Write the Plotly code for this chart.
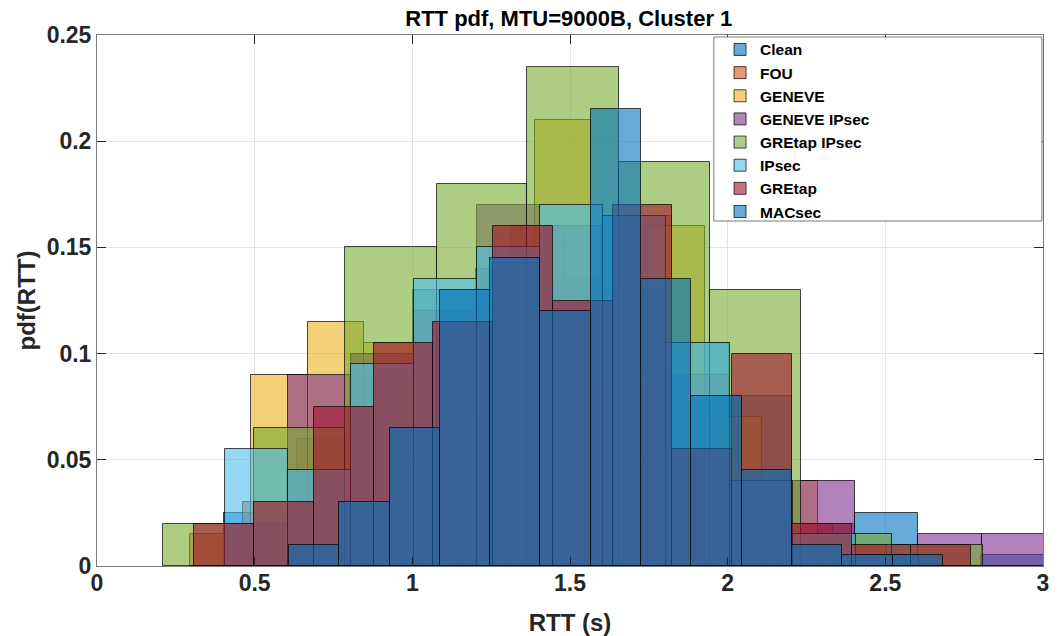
import plotly.graph_objects as go

# Histogram bin edges (s) and probability per bin for each tunnel type
clean_edges = [0.403, 0.603, 0.803, 1.003, 1.203, 1.403, 1.603, 1.803, 2.003, 2.203, 2.403, 2.603, 2.803, 3.003]
clean_pdf = [0.025, 0.045, 0.09, 0.13, 0.14, 0.135, 0.165, 0.105, 0.08, 0.02, 0.025, 0.0, 0.005]

fou_edges = [0.294, 0.464, 0.634, 0.804, 0.974, 1.144, 1.314, 1.484, 1.654, 1.824, 1.994, 2.164, 2.334, 2.504]
fou_pdf = [0.015, 0.03, 0.06, 0.1, 0.1, 0.12, 0.16, 0.13, 0.165, 0.06, 0.03, 0.02, 0.01]

geneve_edges = [0.488, 0.668, 0.848, 1.028, 1.208, 1.388, 1.568, 1.748, 1.928, 2.108, 2.288]
geneve_pdf = [0.09, 0.115, 0.105, 0.05, 0.07, 0.21, 0.09, 0.16, 0.07, 0.04]

geneve_ipsec_edges = [0.405, 0.605, 0.805, 1.005, 1.205, 1.405, 1.605, 1.805, 2.005, 2.205, 2.405, 2.605, 2.805, 3.005]
geneve_ipsec_pdf = [0.02, 0.09, 0.10, 0.12, 0.17, 0.16, 0.13, 0.09, 0.04, 0.04, 0.005, 0.015, 0.015]

gretap_ipsec_edges = [0.209, 0.498, 0.787, 1.077, 1.365, 1.655, 1.943, 2.233, 2.522, 2.811]
gretap_ipsec_pdf = [0.02, 0.065, 0.15, 0.18, 0.235, 0.19, 0.13, 0.015, 0.01]

ipsec_edges = [0.406, 0.606, 0.806, 1.006, 1.206, 1.406, 1.606, 1.806, 2.006, 2.206, 2.406, 2.606]
ipsec_pdf = [0.055, 0.045, 0.095, 0.135, 0.15, 0.17, 0.165, 0.105, 0.04, 0.015, 0.005]

gretap_edges = [0.308, 0.498, 0.687, 0.877, 1.066, 1.256, 1.445, 1.635, 1.824, 2.014, 2.203, 2.393, 2.582, 2.772]
gretap_pdf = [0.02, 0.03, 0.075, 0.105, 0.115, 0.16, 0.125, 0.17, 0.055, 0.10, 0.02, 0.01, 0.01]

macsec_edges = [0.609, 0.768, 0.928, 1.087, 1.247, 1.406, 1.566, 1.725, 1.885, 2.044, 2.204, 2.363, 2.523, 2.682]
macsec_pdf = [0.01, 0.03, 0.065, 0.13, 0.145, 0.12, 0.215, 0.135, 0.08, 0.045, 0.01, 0.005, 0.005]

series_names = ["Clean", "FOU", "GENEVE", "GENEVE IPsec", "GREtap IPsec",
                "IPsec", "GREtap", "MACsec"]

x_ticks = [0, 0.5, 1, 1.5, 2, 2.5, 3]
x_tick_labels = ["0", "0.5", "1", "1.5", "2", "2.5", "3"]
y_ticks = [0, 0.05, 0.1, 0.15, 0.2, 0.25]
y_tick_labels = ["0", "0.05", "0.1", "0.15", "0.2", "0.25"]

# default MATLAB colour order, cycling back to the first colour for the 8th series
palette = [(0, 114, 189), (217, 83, 25), (237, 177, 32), (126, 47, 142),
           (119, 172, 48), (77, 190, 238), (162, 20, 47), (0, 114, 189)]

all_edges = [clean_edges, fou_edges, geneve_edges, geneve_ipsec_edges,
             gretap_ipsec_edges, ipsec_edges, gretap_edges, macsec_edges]
all_pdf = [clean_pdf, fou_pdf, geneve_pdf, geneve_ipsec_pdf,
           gretap_ipsec_pdf, ipsec_pdf, gretap_pdf, macsec_pdf]

FONT = "Liberation Sans, Arial, Helvetica, sans-serif"
INK = "#262626"

fig = go.Figure()
for name, edges, pdf, rgb in zip(series_names, all_edges, all_pdf, palette):
    centers = [(a + b) / 2 for a, b in zip(edges[:-1], edges[1:])]
    widths = [b - a for a, b in zip(edges[:-1], edges[1:])]
    fig.add_trace(go.Bar(
        x=centers, y=pdf, width=widths, name=name,
        marker=dict(color="rgba(%d,%d,%d,0.6)" % rgb,
                    line=dict(color="rgba(0,0,0,0.7)", width=1)),
    ))

axis_common = dict(
    showline=True, linecolor="#7a7a7a", linewidth=1, mirror="ticks",
    ticks="inside", ticklen=9, tickcolor=INK, tickwidth=1,
    showgrid=True, gridcolor="#e4e4e4", gridwidth=1, zeroline=False,
    automargin=False,
    tickfont=dict(family=FONT, size=23, color=INK, weight="bold"),
)

fig.update_layout(
    width=1060, height=636,
    margin=dict(l=97, r=17, t=35, b=70),
    paper_bgcolor="white", plot_bgcolor="white",
    barmode="overlay", bargap=0,
    title=dict(text="RTT pdf, MTU=9000B, Cluster 1", x=0.5366, xanchor="center",
               y=0.972, yanchor="middle",
               font=dict(family=FONT, size=22, color="black", weight="bold")),
    xaxis=dict(range=[0, 3], tickvals=x_ticks, ticktext=x_tick_labels,
               ticklabelstandoff=-4,
               title=dict(text="RTT (s)", standoff=22,
                          font=dict(family=FONT, size=24, color=INK, weight="bold")),
               **axis_common),
    yaxis=dict(range=[0, 0.25], tickvals=y_ticks, ticktext=y_tick_labels,
               title=dict(text="pdf(RTT)", standoff=4,
                          font=dict(family=FONT, size=24, color=INK, weight="bold")),
               **axis_common),
    legend=dict(x=0.6586, y=1.004, xanchor="left", yanchor="top",
                bgcolor="rgba(0,0,0,0)", borderwidth=0, tracegroupgap=0,
                font=dict(family=FONT, size=15.5, color="black", weight="bold")),
    shapes=[dict(type="rect", xref="paper", yref="paper",
                 x0=0.652, x1=0.9989, y0=0.6497, y1=0.9962,
                 fillcolor="white", line=dict(color="#7a7a7a", width=1),
                 layer="above")],
)

fig.write_html("out.html")
